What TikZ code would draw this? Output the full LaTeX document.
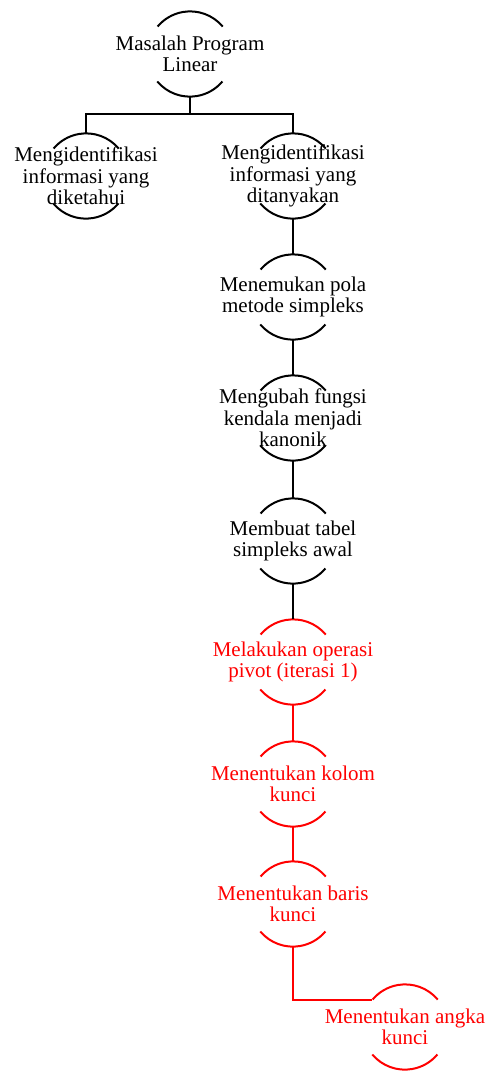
\documentclass[tikz,border=0pt]{standalone}
\usepackage{fontspec}
\setmainfont{Liberation Serif}
\usetikzlibrary{positioning,calc}

\tikzset{
  bulat/.style={circle, minimum size=85pt, inner sep=0pt},
  teks/.style={align=center, font=\fontsize{21}{21.5}\selectfont},
  garis/.style={line width=2pt},
}

\begin{document}
\begin{tikzpicture}[x=1pt,y=1pt]
\useasboundingbox (0,0) rectangle (490,-1072);
% lingkaran (hanya busur atas dan bawah)
\node[bulat] (root) at (190,-54) {};
\node[bulat] (tahu) at (86,-176) {};
\node[bulat] (tanya) at (293,-176) {};
\node[bulat] (pola) at (293,-297) {};
\node[bulat] (ubah) at (293,-418) {};
\node[bulat] (tabel) at (293,-541) {};
\node[bulat] (pivot) at (293,-662) {};
\node[bulat] (kolom) at (293,-784) {};
\node[bulat] (baris) at (293,-904) {};
\node[bulat] (angka) at (405,-1027) {};
\foreach \n in {root,tahu,tanya,pola,ubah,tabel}{
  \draw[garis] (\n.40) arc[start angle=40, end angle=140, radius=42.5];
  \draw[garis] (\n.220) arc[start angle=220, end angle=320, radius=42.5];
}
\foreach \n in {pivot,kolom,baris,angka}{
  \draw[garis,red] (\n.40) arc[start angle=40, end angle=140, radius=42.5];
  \draw[garis,red] (\n.220) arc[start angle=220, end angle=320, radius=42.5];
}
% teks
\node[teks] (troot) at (root) {Masalah Program\\Linear};
\node[teks] (ttahu) at (tahu) {Mengidentifikasi\\informasi yang\\diketahui};
\node[teks] (ttanya) at (tanya) {Mengidentifikasi\\informasi yang\\ditanyakan};
\node[teks] (tpola) at (pola) {Menemukan pola\\metode simpleks};
\node[teks] (tubah) at (ubah) {Mengubah fungsi\\kendala menjadi\\kanonik};
\node[teks] (ttabel) at (tabel) {Membuat tabel\\simpleks awal};
\node[teks,red] (tpivot) at (pivot) {Melakukan operasi\\pivot (iterasi 1)};
\node[teks,red] (tkolom) at (kolom) {Menentukan kolom\\kunci};
\node[teks,red] (tbaris) at (baris) {Menentukan baris\\kunci};
\node[teks,red] (tangka) at (angka) {Menentukan angka\\kunci};
% penghubung
\draw[garis] (root.south) -- ++(0,-17.5) -| (tahu.north);
\draw[garis] (root.south) -- ++(0,-17.5) -| (tanya.north);
\draw[garis] (tanya.south) -- (pola.north);
\draw[garis] (pola.south) -- (ubah.north);
\draw[garis] (ubah.south) -- (tabel.north);
\draw[garis] (tabel.south) -- (pivot.north);
\draw[garis,red] (pivot.south) -- (kolom.north);
\draw[garis,red] (kolom.south) -- (baris.north);
\draw[garis,red] (baris.south) |- (angka.140);
\end{tikzpicture}
\end{document}
